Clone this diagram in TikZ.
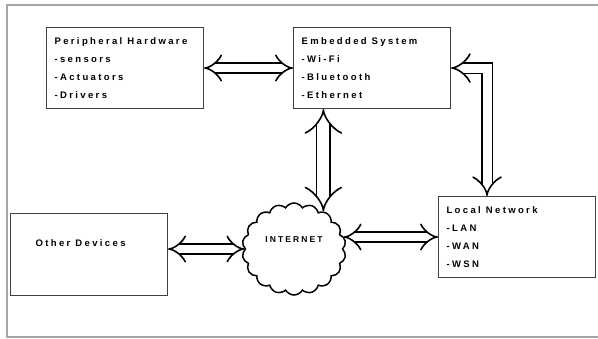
\documentclass[tikz,border=0pt]{standalone}
\usepackage{fontspec}
\newfontfamily\diagfont[LetterSpace=25]{Liberation Sans}
\newcommand{\wordgap}{\hspace{5pt}}
\usetikzlibrary{arrows.meta,shapes.symbols}
\tikzset{
  box/.style={draw=black!75, line width=1.1pt, anchor=north west, align=left,
    inner xsep=8pt, text width=141pt, minimum height=81pt,
    font={\diagfont\bfseries\fontsize{9.5}{18}\selectfont}},
  dblarrow/.style={draw=black, line width=1.6pt, double=white, double distance=#1,
    {Implies[line width=1.8pt]}-{Implies[line width=1.8pt]}},
  dblarrow/.default=8pt,
  frameline/.style={draw=black!35, line width=2.5pt}
}
\begin{document}
\begin{tikzpicture}[x=1pt, y=-1pt]
    \useasboundingbox (0,0) rectangle (598,339);
    % outer frame
    \draw[frameline] (598,5) -- (7,5) -- (7,337) -- (598,337);

    \node[box] at (46,27)  (periph) {Peripheral\wordgap Hardware\\-sensors\\-Actuators\\-Drivers};
    \node[box] at (293,27) (embed)  {Embedded\wordgap System\\-Wi-Fi\\-Bluetooth\\-Ethernet};
    \node[box] at (438,196) (local) {Local\wordgap Network\\-LAN\\-WAN\\-WSN};
    \node[box, inner xsep=25pt, text width=107pt, minimum height=82pt, text depth=22pt] at (10,213) (other) {Other\wordgap Devices};

    \node[cloud, cloud puffs=18, cloud puff arc=120, cloud ignores aspect, draw, line width=1.5pt,
      minimum width=104pt, minimum height=92pt, inner sep=0pt, text depth=18pt,
      font={\diagfont\bfseries\fontsize{8.5}{10}\selectfont}] at (294,249) (inet) {INTERNET};

    \draw[dblarrow]  (periph.east) -- (embed.west);
    \draw[dblarrow=12pt]  (embed.south -| inet.52) -- (inet.52);
    \draw[dblarrow=9pt]  (embed.east) -| ([xshift=-30pt]local.north);
    \draw[dblarrow]  (inet.west -| other.east) -- (inet.west);
    \draw[dblarrow]  (inet.east |- local.west) -- (local.west);
\end{tikzpicture}
\end{document}
